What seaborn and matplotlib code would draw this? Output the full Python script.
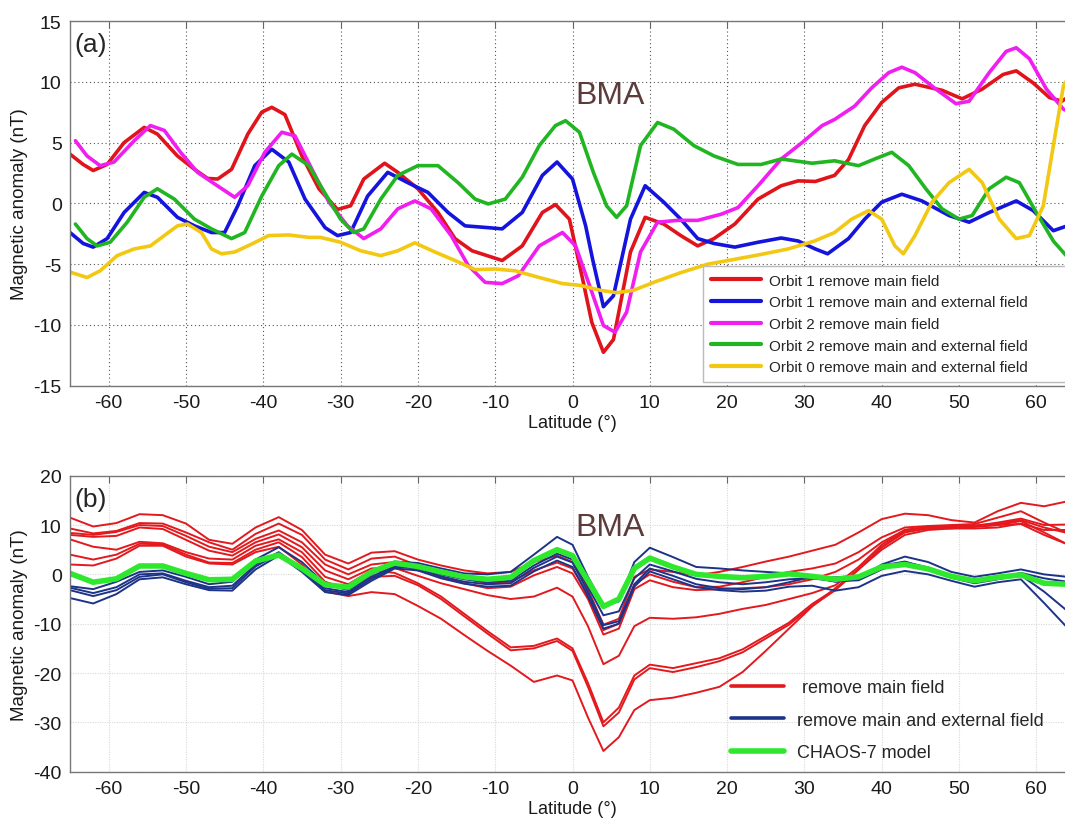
import numpy as np
import pandas as pd
import matplotlib
matplotlib.use("Agg")
import matplotlib.pyplot as plt
from matplotlib.lines import Line2D
import seaborn as sns

# ---------------- data: panel (a) ----------------
o1_main_lat = [-65,-63.3,-62,-60.2,-58,-55.4,-53.7,-51.1,-48.9,-47.2,-45.9,-44.1,-42,-40.2,-38.9,-37.2,-35,-32.8,-30.4,-28.7,
               -27,-24.3,-22.6,-20,-17.4,-15.2,-13,-9.1,-6.5,-3.9,-2.2,-0.4,1.3,2.5,4.0,5.3,7.5,9.4,11.8,14,
               16.2,18.3,21,24,27,29.2,31.4,33.9,35.7,37.8,40,42.2,44.3,47.8,50.4,53,55.7,57.4,59.6,61.7,63.3,64]
o1_main_val = [4.05,3.2,2.7,3.2,5.0,6.25,5.7,3.9,2.8,2.05,2.0,2.8,5.7,7.5,7.9,7.3,3.9,1.2,-0.5,-0.2,
               2.0,3.3,2.55,1.2,-0.75,-2.9,-3.9,-4.7,-3.5,-0.75,-0.1,-1.3,-6.2,-9.8,-12.25,-11.2,-4.0,-1.15,-1.7,-2.65,
               -3.5,-2.9,-1.7,0.35,1.45,1.85,1.8,2.3,3.6,6.4,8.3,9.5,9.8,9.3,8.6,9.4,10.6,10.9,9.9,8.7,8.4,8.7]

o1_ext_lat = [-65,-63.3,-62,-60.2,-58,-55.4,-53.7,-51.1,-48.9,-46.7,-45,-43.3,-41.1,-38.9,-36.7,-34.6,-32,-30.4,-28.7,-26.5,
              -23.9,-21.3,-18.7,-16.1,-13.9,-10.9,-9.1,-6.5,-3.9,-2.0,0,1.7,2.6,4.0,5.3,7.5,9.4,11.8,14,16.2,
              18.3,21,24,27,29.2,31.4,33,35.7,37.8,40,42.6,45.2,48.7,51.3,53.9,57.4,59.6,62.2,64]
o1_ext_val = [-2.4,-3.3,-3.6,-2.9,-0.75,0.9,0.5,-1.15,-1.85,-2.4,-2.4,-0.2,3.1,4.45,3.4,0.35,-2.0,-2.65,-2.4,0.6,
              2.55,1.7,0.9,-0.75,-1.85,-2.0,-2.1,-0.75,2.3,3.4,2.0,-1.85,-4.6,-8.5,-7.6,-1.3,1.45,0.1,-1.3,-2.9,
              -3.3,-3.6,-3.2,-2.85,-3.1,-3.75,-4.15,-2.9,-1.3,0.1,0.75,0.2,-1.0,-1.55,-0.75,0.2,-0.6,-2.25,-1.85]

o2_main_lat = [-64.3,-62.8,-61.1,-59.3,-56.7,-54.6,-52.8,-50.7,-48.5,-46.3,-43.7,-42,-39.8,-37.6,-35.9,-33.7,-31.5,-29.1,-27,-24.8,
               -22.6,-20.4,-18.3,-15.7,-13.5,-11.3,-9.1,-7,-4.3,-1.3,0.4,2.2,4.0,5.5,7.0,8.8,11,13.6,16.2,19.2,
               21.4,24,27,29.7,32.3,33.9,36.5,38.7,40.9,42.6,44.3,47,49.6,51.3,53.9,56.1,57.4,59.1,61.3,63.5,64]
o2_main_val = [5.15,3.9,3.1,3.4,5.15,6.4,6.0,4.2,2.55,1.6,0.5,1.45,4.2,5.85,5.55,2.8,0.1,-1.85,-2.9,-2.1,
               -0.45,0.2,-0.45,-2.65,-5.1,-6.5,-6.6,-5.95,-3.5,-2.4,-3.5,-6.75,-10.05,-10.6,-8.95,-4.0,-1.55,-1.4,-1.4,-0.9,
               -0.35,1.45,3.65,5.0,6.4,6.9,8.0,9.5,10.75,11.2,10.75,9.4,8.2,8.4,10.75,12.5,12.8,11.9,9.4,7.75,7.6]

o2_ext_lat = [-64.3,-62.8,-61.5,-59.8,-57.6,-55.4,-53.7,-51.5,-48.9,-46.7,-44.1,-42.4,-40.2,-38,-36.3,-34.1,-32.6,-30,-28.3,-27,
              -24.8,-22.6,-20,-17.4,-14.8,-12.6,-10.9,-8.7,-6.5,-4.3,-2.2,-0.9,0.9,2.7,4.4,5.7,7.0,8.8,11,13.1,
              15.7,18.3,21.4,24.4,27,31,33.9,37,39.1,41.3,43.5,45.7,47.8,50,51.7,53.9,56.1,57.8,60,62.2,64]
o2_ext_val = [-1.7,-2.9,-3.5,-3.2,-1.55,0.5,1.2,0.35,-1.3,-2.1,-2.9,-2.4,0.6,3.1,4.05,3.1,1.45,-1.3,-2.4,-2.1,
              0.35,2.3,3.1,3.1,1.7,0.35,-0.05,0.35,2.15,4.75,6.4,6.8,5.85,2.55,-0.2,-1.15,-0.2,4.75,6.65,6.1,
              4.75,3.9,3.2,3.2,3.65,3.3,3.5,3.1,3.65,4.2,3.1,1.2,-0.45,-1.3,-1.0,1.2,2.15,1.7,-0.75,-3.1,-4.4]

o0_ext_lat = [-65,-62.8,-61.1,-58.9,-56.7,-54.6,-52.8,-51.1,-49.8,-48,-46.7,-45.4,-43.7,-41.5,-39.3,-36.7,-34.1,-32.6,-30,-27.4,
              -24.8,-22.6,-20.4,-17.8,-15.2,-12.6,-10,-7.4,-4.3,-1.3,1.0,3.6,5.7,7.9,10.5,14,17.5,21,24.4,27.9,
              31.3,33.9,36.1,38.3,40,41.7,42.8,44.3,46.5,48.7,51.3,53,55.2,57.4,59.1,60.9,62.2,63.5,64]
o0_ext_val = [-5.65,-6.1,-5.55,-4.3,-3.75,-3.5,-2.65,-1.85,-1.7,-2.4,-3.75,-4.15,-4.0,-3.35,-2.65,-2.6,-2.8,-2.8,-3.2,-3.9,
              -4.3,-3.9,-3.25,-4.0,-4.7,-5.45,-5.4,-5.55,-6.1,-6.6,-6.75,-7.15,-7.35,-7.15,-6.5,-5.7,-5.0,-4.6,-4.2,-3.75,
              -3.1,-2.4,-1.3,-0.6,-1.3,-3.5,-4.15,-2.65,0.1,1.7,2.8,1.7,-1.3,-2.9,-2.65,-0.2,4.75,9.65,10.2]

series_a_labels = ["Orbit 1 remove main field", "Orbit 1 remove main and external field",
                   "Orbit 2 remove main field", "Orbit 2 remove main and external field",
                   "Orbit 0 remove main and external field"]

# ---------------- data: panel (b) ----------------
lat_b = [-65,-62,-59,-56,-53,-50,-47,-44,-41,-38,-35,-32,-29,-26,-23,-20,-17,-14,-11,-8,
         -5,-2,0,2,4,6,8,10,13,16,19,22,25,28,31,34,37,40,43,46,49,52,55,58,61,64]

chaos7 = [0.2,-1.6,-0.9,1.7,1.7,0.2,-1.1,-1.0,2.7,3.9, 1.2,-2.1,-2.6,0.5,2.3,1.6,0.5,-0.5,-1.0,-0.6,
          2.8,5.0,3.8,-1.3,-6.5,-5.0,1.2,3.3,1.5,0.0, -0.4,-0.7,-0.4,0.1,-0.4,-1.0,-0.5,1.5,2.0,1.1,
          -0.4,-1.3,-0.6,-0.1,-1.8,-2.0]

ext_1 = [-2.4,-3.0,-1.5,0.5,0.8,-0.5,-2.0,-1.5,3.0,5.5, 2.5,-2.0,-3.2,0.0,2.6,2.3,1.2,0.2,0.0,0.5,
         4.0,7.6,6.0,-0.5,-6.3,-5.5,2.5,5.4,3.5,1.5, 1.2,0.8,0.5,0.2,-0.5,-1.5,-1.0,2.0,3.6,2.5,
         0.5,-0.5,0.2,1.0,0.0,-0.5]
ext_2 = [-2.7,-3.8,-2.6,0.0,0.2,-1.3,-2.6,-2.3,2.0,4.5, 1.2,-2.8,-3.6,-0.5,1.8,1.5,0.0,-1.0,-1.6,-1.3,
         1.8,4.2,3.0,-2.5,-8.3,-7.5,-0.8,2.0,0.6,-0.9, -1.6,-2.0,-1.6,-1.0,-0.8,-1.4,-1.2,1.0,2.5,1.4,
         -0.3,-1.5,-0.8,0.3,-0.8,-1.5]
ext_3 = [-3.2,-4.4,-3.2,-0.5,0.0,-1.6,-2.9,-2.8,1.6,4.2, 0.9,-3.2,-3.9,-0.9,1.5,1.2,-0.4,-1.5,-2.0,-1.8,
         1.3,3.6,2.4,-3.5,-10.3,-9.5,-2.0,1.2,-0.3,-2.0, -2.8,-3.0,-2.6,-1.6,-0.5,-0.6,-0.3,1.8,2.6,1.2,
         -0.7,-1.8,-1.0,-0.2,-3.5,-7.4]
ext_4 = [-4.8,-5.9,-4.0,-1.0,-0.6,-2.0,-3.2,-3.3,1.0,3.8, 0.5,-3.6,-4.2,-1.3,1.2,0.8,-0.8,-1.9,-2.5,-2.3,
         0.6,2.8,1.5,-4.5,-11.0,-10.0,-2.5,0.6,-1.0,-2.6, -3.2,-3.5,-3.3,-2.5,-2.3,-3.3,-2.6,-0.3,0.7,0.0,
         -1.3,-2.5,-1.6,-1.0,-5.8,-10.8]

main_1 = [11.5,9.7,10.4,12.2,12.0,10.3,7.0,6.2,9.5,11.6, 9.0,4.0,2.2,4.4,4.7,3.0,1.8,0.8,0.2,0.5,
          2.5,3.8,2.5,-3.0,-10.2,-9.0,-0.5,1.0,0.5,-0.2, 0.5,1.5,2.6,3.6,4.8,6.0,8.5,11.2,12.3,12.0,
          11.0,10.5,12.8,14.5,13.8,14.8]
main_2 = [9.3,8.3,8.8,10.4,10.3,8.5,6.5,5.0,8.2,10.3, 8.0,3.0,1.0,3.2,3.6,1.8,0.5,-0.8,-1.8,-1.5,
          0.8,2.4,1.2,-4.0,-11.3,-10.0,-2.0,0.0,-1.5,-2.6, -2.5,-1.6,-0.5,0.5,1.2,2.2,4.5,7.5,9.5,9.8,
          10.0,10.2,11.5,12.8,10.5,8.4]
main_3 = [8.4,8.0,8.6,10.0,9.8,7.8,5.6,4.5,7.2,8.9, 6.5,2.0,0.0,2.0,2.5,0.8,-0.5,-1.8,-2.8,-2.5,
          -0.2,1.5,0.2,-5.0,-12.2,-11.0,-3.0,-1.2,-2.6,-3.2, -3.0,-2.8,-2.6,-2.0,-1.0,0.5,3.0,6.5,9.0,9.5,
          9.3,9.8,10.5,11.3,10.0,10.1]
main_4 = [8.0,7.6,7.8,9.5,9.2,7.0,4.8,3.8,6.5,8.1, 5.5,0.8,-1.0,1.2,1.3,-0.3,-1.8,-3.0,-4.2,-5.0,
          -4.5,-2.7,-4.5,-10.5,-18.2,-16.5,-10.5,-8.8,-9.0,-8.7, -8.0,-7.0,-6.2,-5.0,-3.8,-2.2,1.5,6.0,9.0,9.7,
          9.6,9.8,10.0,10.2,8.0,6.1]
main_5 = [7.1,5.6,5.0,6.6,6.3,4.5,3.2,3.0,5.8,7.1, 4.5,-0.5,-2.0,0.8,0.3,-1.8,-4.5,-8.0,-11.5,-14.8,
          -14.5,-13.0,-15.0,-22.0,-30.0,-27.0,-20.5,-18.3,-19.0,-18.0, -17.0,-15.2,-12.5,-9.8,-6.0,-3.0,1.0,5.5,8.8,9.6,
          9.8,9.9,10.3,11.0,9.5,8.4]
main_6 = [4.0,3.0,4.0,6.2,6.1,4.0,2.4,2.3,5.0,6.5, 3.5,-1.5,-3.0,-0.5,-0.3,-2.2,-5.0,-8.5,-12.0,-15.4,
          -15.0,-13.5,-15.5,-22.8,-30.8,-28.0,-21.3,-19.0,-19.8,-18.8, -17.6,-15.8,-13.0,-10.2,-6.4,-3.2,1.0,5.5,8.5,9.3,
          9.5,9.6,10.0,10.8,8.5,6.1]
main_7 = [2.0,1.8,3.2,5.8,5.8,3.6,2.2,2.0,4.5,5.6, 2.0,-3.5,-4.4,-3.6,-4.0,-6.4,-9.0,-12.3,-15.5,-18.5,
          -21.8,-20.5,-21.5,-29.0,-35.8,-33.0,-27.5,-25.5,-25.0,-24.0, -22.8,-19.8,-15.5,-11.0,-6.5,-2.8,1.0,5.0,8.0,9.0,
          9.3,9.3,9.5,10.3,9.0,9.0]

main_curves = [main_1, main_2, main_3, main_4, main_5, main_6, main_7]
ext_curves = [ext_1, ext_2, ext_3, ext_4]
series_b_labels = [" remove main field", "remove main and external field", "CHAOS-7 model"]

x_ticks = list(range(-60, 61, 10))

# ---------------- style ----------------
sns.set_style("white")
plt.rcParams['font.family'] = ['Liberation Sans', 'DejaVu Sans']
plt.rcParams['axes.unicode_minus'] = False

W, H = 1065, 820
fig = plt.figure(figsize=(W / 100, H / 100), dpi=100)

def fx(px):
    return px / W

def fy(py):
    return 1 - py / H

ax1 = fig.add_axes([fx(70), fy(386.7), 1005 / W, (386.7 - 22) / H])
ax2 = fig.add_axes([fx(70), fy(772.7), 1005 / W, (772.7 - 476.7) / H])

colors_a = ["#e0141b", "#1414dc", "#f01ef0", "#21b621", "#f3c812"]
a_lats = [o1_main_lat, o1_ext_lat, o2_main_lat, o2_ext_lat, o0_ext_lat]
a_vals = [o1_main_val, o1_ext_val, o2_main_val, o2_ext_val, o0_ext_val]
for lat, val, c, lab in zip(a_lats, a_vals, colors_a, series_a_labels):
    sns.lineplot(x=lat, y=val, ax=ax1, color=c, linewidth=2.6, sort=False,
                 estimator=None, label=lab)

red_b, blue_b, green_b = "#e3191e", "#1c3388", "#2ee82e"
for cur in main_curves:
    sns.lineplot(x=lat_b, y=cur, ax=ax2, color=red_b, linewidth=1.4, sort=False, estimator=None)
for cur in ext_curves:
    sns.lineplot(x=lat_b, y=cur, ax=ax2, color=blue_b, linewidth=1.4, sort=False, estimator=None)
sns.lineplot(x=lat_b, y=chaos7, ax=ax2, color=green_b, linewidth=4.0, sort=False, estimator=None)

for ax, ylim, yt in [(ax1, (-15, 15), range(-15, 16, 5)), (ax2, (-40, 20), range(-40, 21, 10))]:
    ax.set_xlim(-65, 65)
    ax.set_ylim(*ylim)
    ax.set_xticks(x_ticks)
    ax.set_yticks(list(yt))
    ax.tick_params(direction='in', length=5, width=0.8, color='#666666', top=True, right=True,
                   labelsize=14, labelcolor='#1a1a1a', pad=6)
    for s in ax.spines.values():
        s.set_color('#777777')
        s.set_linewidth(1.0)
    ax.set_xlabel("Latitude (°)", fontsize=13, labelpad=2, color='#1a1a1a')
    ax.set_ylabel("Magnetic anomaly (nT)", fontsize=13.5, labelpad=4, color='#1a1a1a')
    ax.set_axisbelow(True)

ax1.grid(True, linestyle=(0, (1, 2.5)), color='#555555', linewidth=0.8)
ax2.grid(True, linestyle=(0, (1, 1.2)), color='#d8d8d8', linewidth=0.8)

ax1.text(0.004, 0.937, "(a)", transform=ax1.transAxes, fontsize=19, ha='left', va='center')
ax2.text(0.004, 0.921, "(b)", transform=ax2.transAxes, fontsize=19, ha='left', va='center')
ax1.text(4.8, 8.9, "BMA", fontsize=23, color='#5c3b3b', ha='center', va='center')
ax2.text(4.8, 9.5, "BMA", fontsize=23, color='#5c3b3b', ha='center', va='center')

# legend (a)
bx0, by0 = 703, 383
leg1 = ax1.legend(loc='lower left', bbox_to_anchor=(fx(bx0), fy(by0), fx(1085) - fx(bx0), (383 - 267) / H),
                  bbox_transform=fig.transFigure, mode='expand', borderaxespad=0,
                  prop={'family': ['Liberation Sans Narrow', 'Liberation Sans'], 'size': 11},
                  handlelength=3.3, handletextpad=0.5, labelspacing=0.5, borderpad=0.5,
                  frameon=True, fancybox=False, edgecolor='#bbbbbb', framealpha=1)
for lh in leg1.get_lines():
    lh.set_linewidth(3.0)

# legend (b)
handles_b = [Line2D([0], [0], color=red_b, lw=2.6),
             Line2D([0], [0], color=blue_b, lw=2.6),
             Line2D([0], [0], color=green_b, lw=4.0)]
leg2 = ax2.legend(handles_b, series_b_labels, loc='upper left',
                  bbox_to_anchor=(fx(724), fy(673)), bbox_transform=fig.transFigure,
                  borderaxespad=0, fontsize=13, handlelength=2.9, handletextpad=0.75,
                  labelspacing=0.85, frameon=False)

fig.savefig("out.png", dpi=100)
